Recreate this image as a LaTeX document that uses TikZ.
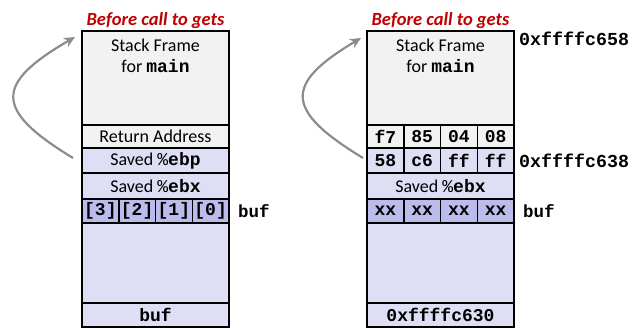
\documentclass[tikz,border=0pt]{standalone}
\usepackage{fontspec}
\setmainfont{Carlito}
\setmonofont{Liberation Mono}
\usetikzlibrary{calc,arrows.meta,positioning}
\definecolor{stackgray}{RGB}{242,242,242}
\definecolor{stacklav}{RGB}{222,222,244}
\definecolor{bufcell}{RGB}{188,188,236}
\definecolor{titlered}{RGB}{192,0,0}
\definecolor{retgray}{RGB}{140,140,140}
\newcommand{\tb}[1]{\texttt{\textbf{#1}}}
\tikzset{
  slot/.style={draw=black,line width=1.5pt,minimum width=147pt,inner sep=0pt,outer sep=0pt,
    anchor=north west,font=\fontsize{18}{20}\selectfont},
  cell/.style={slot,minimum width=36.75pt,minimum height=24pt},
  addr/.style={inner sep=0pt,font=\fontsize{18.3}{20}\selectfont\ttfamily\bfseries},
  ttl/.style={inner sep=2pt,text=titlered,font=\fontsize{18.5}{20}\selectfont\bfseries\itshape},
  ret/.style={draw=retgray,line width=2.2pt,-{Stealth[length=11pt,width=10pt]}}
}

\begin{document}
\begin{tikzpicture}[x=1pt,y=-1pt]
    \useasboundingbox (0,0) rectangle (635,328);
    % left stack
    \node[slot,fill=stackgray,minimum height=94pt] (lframe) at (82,31) {};
    \node[below=4pt of lframe.north,align=center,font=\fontsize{18}{21}\selectfont] (lframetxt) {Stack Frame\\for \tb{main}};
    \node[ttl,above=0pt of lframe] (ltitle) {Before call to gets};
    \node[slot,fill=stackgray,minimum height=23pt] (lret) at (82,125) {Return Address};
    \node[slot,fill=stacklav,minimum height=25pt] (lebp) at (82,148) {Saved \texttt{\%}\tb{ebp}};
    \node[slot,fill=stacklav,minimum height=26pt] (lebx) at (82,173) {Saved \texttt{\%}\tb{ebx}};
    \foreach \t [count=\i] in {{[3]},{[2]},{[1]},{[0]}}
      \node[cell,fill=bufcell] (lb\i) at ({82+(\i-1)*36.75},199) {\tb{\t}};
    \node[slot,fill=stacklav,minimum height=80pt] (lrest) at (82,223) {};
    \node[slot,fill=stacklav,minimum height=24pt] (lbot) at (82,303) {\tb{buf}};
    \node[addr,right=9pt of lb4.east,font=\fontsize{17.5}{20}\selectfont\ttfamily\bfseries] (lbuf) {buf};
    % right stack
    \node[slot,fill=stackgray,minimum height=94pt] (rframe) at (367,31) {};
    \node[below=4pt of rframe.north,align=center,font=\fontsize{18}{21}\selectfont] (rframetxt) {Stack Frame\\for \tb{main}};
    \node[ttl,above=0pt of rframe] (rtitle) {Before call to gets};
    \foreach \t [count=\i] in {f7,85,04,08}
      \node[cell,fill=stackgray,minimum height=23pt] (rr\i) at ({367+(\i-1)*36.75},125) {\tb{\t}};
    \foreach \t [count=\i] in {58,c6,ff,ff}
      \node[cell,fill=stacklav,minimum height=25pt] (re\i) at ({367+(\i-1)*36.75},148) {\tb{\t}};
    \node[slot,fill=stacklav,minimum height=26pt] (rebx) at (367,173) {Saved \texttt{\%}\tb{ebx}};
    \foreach \i in {1,...,4}
      \node[cell,fill=bufcell] (rb\i) at ({367+(\i-1)*36.75},199) {\tb{xx}};
    \node[slot,fill=stacklav,minimum height=80pt] (rrest) at (367,223) {};
    \node[slot,fill=stacklav,minimum height=24pt] (rbot) at (367,303) {\tb{0xffffc630}};
    \node[addr,right=9pt of rb4.east,font=\fontsize{17.5}{20}\selectfont\ttfamily\bfseries] (rbuf) {buf};
    \node[addr,anchor=west] (rtop) at ($(rframe.north east)+(5,8)$) {0xffffc658};
    \node[addr,right=5pt of re4.east] (rebp) {0xffffc638};
    % return links
    \coordinate (lfrom) at (73,158);
    \coordinate (lto) at (75,37);
    \coordinate (rfrom) at (363,158);
    \coordinate (rto) at (361,38);
    \draw[ret] (lfrom) .. controls (-6,110) and (-6,84) .. (lto);
    \draw[ret] (rfrom) .. controls (284,110) and (284,84) .. (rto);
  \end{tikzpicture}
\end{document}
